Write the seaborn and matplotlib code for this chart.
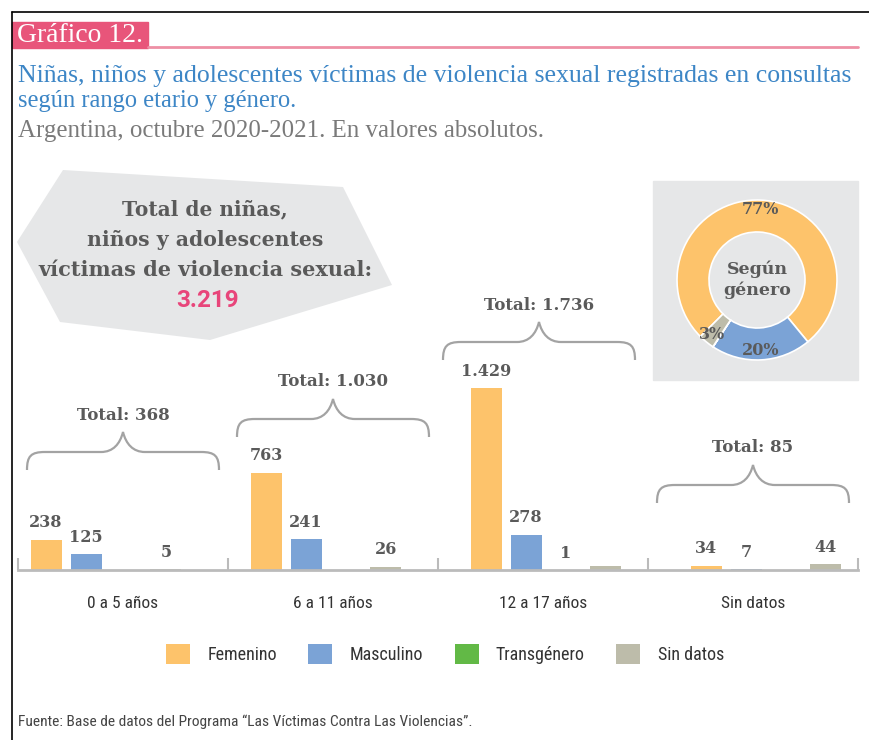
import numpy as np
import pandas as pd
import matplotlib
matplotlib.use("Agg")
import matplotlib.pyplot as plt
import seaborn as sns
from matplotlib import font_manager
from matplotlib.patches import Polygon, Rectangle, Patch, PathPatch
from matplotlib.path import Path
from matplotlib.lines import Line2D

# ---------------- data ----------------
categories = ["0 a 5 años", "6 a 11 años", "12 a 17 años", "Sin datos"]
genders = ["Femenino", "Masculino", "Transgénero", "Sin datos"]
femenino = [238, 763, 1429, 34]
masculino = [125, 241, 278, 7]
transgenero = [0, 0, 1, 0]
sin_datos = [5, 26, 28, 44]
hidden_labels = [("12 a 17 años", "Sin datos")]
colors = ["#FDC36B", "#7BA3D6", "#62B946", "#BDBCAA"]

header = "Gráfico 12."
title_lines = ["Niñas, niños y adolescentes víctimas de violencia sexual registradas en consultas",
               "según rango etario y género."]
subtitle = "Argentina, octubre 2020-2021. En valores absolutos."
box_lines = ["Total de niñas,", "niños y adolescentes", "víctimas de violencia sexual:"]
donut_label = "Según\ngénero"
source = "Fuente: Base de datos del Programa \u201cLas Víctimas Contra Las Violencias\u201d."

series = [femenino, masculino, transgenero, sin_datos]
df = pd.DataFrame({
    "Rango": categories * 4,
    "Genero": np.repeat(genders, len(categories)),
    "Casos": femenino + masculino + transgenero + sin_datos,
})

def fmt(v):
    return f"{v:,}".replace(",", ".")

# ---------------- fonts ----------------
sns.set_theme(style="white")
names = {f.name for f in font_manager.fontManager.ttflist}
narrow = "Liberation Sans Narrow" if "Liberation Sans Narrow" in names else (
    "Roboto Condensed" if "Roboto Condensed" in names else "DejaVu Sans")
serif = "Liberation Serif" if "Liberation Serif" in names else "DejaVu Serif"
slab = "DejaVu Serif"
plt.rcParams["font.family"] = [narrow, "DejaVu Sans"]

W, H = 869, 740
fig = plt.figure(figsize=(W / 100, H / 100), dpi=100)
renderer = fig.canvas.get_renderer()

def fx(x):
    return x / W

def fy(y):
    return 1 - y / H

def ftext(x, y, s, width_px, **kw):
    t = fig.text(fx(x), fy(y), s, **kw)
    w = t.get_window_extent(renderer).width
    t.set_fontsize(t.get_fontsize() * width_px / w)
    return t

# frame
fig.add_artist(Line2D([fx(12), 1], [fy(12), fy(12)], color="black", lw=1.2))
fig.add_artist(Line2D([fx(12), fx(12)], [fy(12), 0], color="black", lw=1.2))

# header
fig.add_artist(Rectangle((fx(12), fy(48)), 136 / W, 26 / H, color="#E8557A", zorder=-2))
fig.add_artist(Line2D([fx(148), fx(858)], [fy(47), fy(47)], color="#EE8FA5", lw=2, zorder=-2))
ftext(17, 36, header, 126, color="white", family=serif, va="center", ha="left", fontsize=15)

ftext(18, 76, title_lines[0], 839, color="#3D86C6", family=serif, va="center", ha="left", fontsize=15)
ftext(18, 101, title_lines[1], 280, color="#3D86C6", family=serif, va="center", ha="left", fontsize=15)
ftext(18, 131, subtitle, 527, color="#7A7A7A", family=serif, va="center", ha="left", fontsize=15)

# grey polygon with total
poly_px = [(63, 170), (343, 187), (392, 285), (210, 340), (60, 322), (17, 242)]
fig.add_artist(Polygon([(fx(x), fy(y)) for x, y in poly_px], closed=True,
                       facecolor="#E6E7E8", edgecolor="none", transform=fig.transFigure, zorder=-3))
for s, yy, wpx in zip(box_lines, [209, 240, 270], [166, 236, 334]):
    ftext(205, yy, s, wpx, color="#5A5A5A", family=slab, weight="bold", ha="center", va="center", fontsize=14)
grand_total = sum(sum(s) for s in series)
ftext(208, 300, fmt(grand_total), 63, color="#E8457A", family=["Roboto", "DejaVu Sans"], weight="bold",
      ha="center", va="center", fontsize=16)

# donut panel
fig.add_artist(Rectangle((fx(653), fy(380)), 205 / W, 199 / H, color="#E6E7E8", zorder=-3))
dax = fig.add_axes([fx(757 - 80), fy(280 + 80), 160 / W, 160 / H])
dax.patch.set_visible(False)
gender_totals = [sum(s) for s in series]
wedges, texts, autotexts = dax.pie(
    gender_totals, colors=colors, startangle=225, counterclock=False, radius=1,
    wedgeprops=dict(width=0.4, edgecolor="white", linewidth=1.2),
    autopct=lambda p: f"{p:.0f}%" if p >= 1 else "", pctdistance=0.88)
for t in autotexts:
    t.set_family(slab)
    t.set_weight("bold")
    t.set_color("#5A5A5A")
    t.set_fontsize(11.5)
dax.set_xlim(-1, 1)
dax.set_ylim(-1, 1)
dax.text(0, 0, donut_label, ha="center", va="center", family=slab, weight="bold",
         color="#5A5A5A", fontsize=12.5, linespacing=1.25)

# ---------------- bars ----------------
ax_left, ax_right = 18, 858
ax_top, ax_bottom = 180, 570
bar_step = 220.0      # px between bar groups
bar_origin = 106.0    # px of first bar-group centre
panel_step = 210.0    # px between category panels (labels, separators, braces)
panel_origin = 123.0  # px of first panel centre

def xdata(px):
    return (px - bar_origin) / bar_step

ax = fig.add_axes([fx(ax_left), fy(ax_bottom), (ax_right - ax_left) / W, (ax_bottom - ax_top) / H])
ax.patch.set_visible(False)
sns.barplot(data=df, x="Rango", y="Casos", hue="Genero", order=categories, hue_order=genders,
            palette=colors, width=0.727, gap=0.225, saturation=1, errorbar=None, legend=False, ax=ax)
px_per_unit = 0.1274
ax.set_ylim(0, (ax_bottom - ax_top) / px_per_unit)
ax.set_xlim(xdata(ax_left), xdata(ax_right))
for bar in ax.patches:
    bar.set_linewidth(0)

for g, cont in zip(genders, ax.containers):
    for cat, bar in zip(categories, cont):
        v = int(round(bar.get_height()))
        if v <= 0 or (cat, g) in hidden_labels:
            continue
        ax.annotate(fmt(v), (bar.get_x() + bar.get_width() / 2, v), xytext=(0, 6),
                    textcoords="offset points", ha="center", va="bottom",
                    family=slab, weight="bold", color="#5A5A5A", fontsize=11.5)

# separators and baseline
panel_centres = [panel_origin + panel_step * i for i in range(len(categories))]
seps = [ax_left + panel_step * i for i in range(len(categories) + 1)]
ax.vlines([xdata(s) for s in seps], 0, 12 / px_per_unit, color="#BBBBBB", lw=1.5, clip_on=False)
for sp in ["left", "right", "top"]:
    ax.spines[sp].set_visible(False)
ax.spines["bottom"].set_color("#BBBBBB")
ax.spines["bottom"].set_linewidth(2)
ax.set_yticks([])
ax.set_ylabel("")
ax.set_xlabel("")
ax.set_xticks([xdata(c) for c in panel_centres])
ax.set_xticklabels(categories)
ax.tick_params(axis="x", length=0, pad=19, labelsize=12.5, labelcolor="#333333")

# braces with totals
brace_base_px = [100, 133, 210, 67]
half_w = 96

def brace(xc_px, yb):
    pts = [(-half_w, 0), (-half_w, 14), (-half_w + 4, 18), (-half_w + 18, 18),
           (-22, 18), (-10, 18), (-3, 26), (0, 38),
           (3, 26), (10, 18), (22, 18),
           (half_w - 18, 18), (half_w - 4, 18), (half_w, 14), (half_w, 0)]
    codes = [Path.MOVETO, Path.CURVE4, Path.CURVE4, Path.CURVE4,
             Path.LINETO, Path.CURVE4, Path.CURVE4, Path.CURVE4,
             Path.CURVE4, Path.CURVE4, Path.CURVE4,
             Path.LINETO, Path.CURVE4, Path.CURVE4, Path.CURVE4]
    verts = [(xdata(xc_px + dx), (yb + dy) / px_per_unit) for dx, dy in pts]
    return PathPatch(Path(verts, codes), facecolor="none", edgecolor="#A3A3A3", lw=1.6, clip_on=False)

for i, cat in enumerate(categories):
    total = sum(s[i] for s in series)
    xc_px = panel_centres[i] - (4 if i == 2 else 0)
    ax.add_patch(brace(xc_px, brace_base_px[i]))
    ax.text(xdata(xc_px), (brace_base_px[i] + 38 + 17) / px_per_unit, f"Total: {fmt(total)}",
            ha="center", va="center", family=slab, weight="bold", color="#5A5A5A", fontsize=12)

# legend
handles = [Patch(facecolor=c, edgecolor="none", label=g) for c, g in zip(colors, genders)]
leg_fs = 13
fig.legend(handles=handles, loc="center", bbox_to_anchor=(fx(445), fy(654)), ncol=4, frameon=False,
           fontsize=leg_fs, handlelength=24 / (leg_fs / 0.72), handleheight=24 / (leg_fs / 0.72),
           handletextpad=0.95, columnspacing=1.75, labelcolor="#333333")

ftext(18, 722, source, 456, color="#444444", ha="left", va="center", fontsize=9)

fig.savefig("out.png", dpi=100)
